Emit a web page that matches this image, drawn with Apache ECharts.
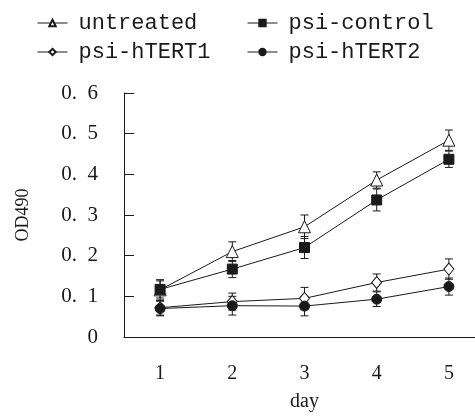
<!DOCTYPE html>
<html><head><meta charset="utf-8">
<script src="https://cdn.jsdelivr.net/npm/echarts@6/dist/echarts.min.js"></script>
<style>html,body{margin:0;padding:0;background:#fff}#c{width:475px;height:418px}</style>
</head><body><div id="c"></div>
<script>
const days = ['1','2','3','4','5'];
const yTicks = [0, 0.1, 0.2, 0.3, 0.4, 0.5, 0.6];
const untreated = [0.116, 0.210, 0.271, 0.386, 0.484];
const untreatedErr = [0.025, 0.024, 0.029, 0.020, 0.025];
const psiControl = [0.117, 0.167, 0.220, 0.337, 0.437];
const psiControlErr = [0.021, 0.021, 0.027, 0.027, 0.020];
const psiHTERT1 = [0.072, 0.087, 0.095, 0.134, 0.167];
const psiHTERT1Err = [0.018, 0.021, 0.027, 0.021, 0.025];
const psiHTERT2 = [0.070, 0.077, 0.076, 0.093, 0.124];
const psiHTERT2Err = [0.018, 0.023, 0.024, 0.018, 0.021];

const serif = '"Liberation Serif", "DejaVu Serif", serif';
const mono = '"Liberation Mono", "DejaVu Sans Mono", monospace';
const ink = '#1a1a1a';

function errSeries(vals, errs) {
  return {
    type: 'custom', z: 1, silent: true,
    data: vals.map((v, i) => [i, v - errs[i], v + errs[i]]),
    renderItem: function (params, api) {
      const x = api.value(0);
      const lo = api.coord([x, api.value(1)]);
      const hi = api.coord([x, api.value(2)]);
      const cw = 4;
      const st = {stroke: ink, lineWidth: 1};
      return {type: 'group', children: [
        {type: 'line', shape: {x1: lo[0], y1: lo[1], x2: hi[0], y2: hi[1]}, style: st},
        {type: 'line', shape: {x1: lo[0]-cw, y1: lo[1], x2: lo[0]+cw, y2: lo[1]}, style: st},
        {type: 'line', shape: {x1: hi[0]-cw, y1: hi[1], x2: hi[0]+cw, y2: hi[1]}, style: st}
      ]};
    }
  };
}
function lineSeries(name, vals, symbol, size, fill) {
  return {
    name: name, type: 'line', z: 3, data: vals, symbol: symbol, symbolSize: size,
    lineStyle: {color: ink, width: 1},
    itemStyle: {color: fill, borderColor: ink, borderWidth: 1},
    emphasis: {disabled: true}
  };
}
function legendAt(name, left, top) {
  return {
    data: [name], left: left, top: top, itemWidth: 30, itemHeight: 8, padding: 0,
    itemGap: 0, selectedMode: false,
    lineStyle: {width: 1, color: ink},
    textStyle: {fontFamily: mono, fontSize: 22, color: ink, padding: [0,0,0,6]}
  };
}

const chart = echarts.init(document.getElementById('c'));
chart.setOption({
  animation: false,
  backgroundColor: '#fff',
  legend: [
    legendAt('untreated', 37, 12),
    legendAt('psi-control', 247, 12),
    legendAt('psi-hTERT1', 37, 41),
    legendAt('psi-hTERT2', 247, 41)
  ],
  grid: {left: 124, top: 93, width: 361, height: 244, outerBoundsMode: 'none', containLabel: false},
  xAxis: {
    type: 'category', data: days, boundaryGap: true,
    name: 'day', nameLocation: 'middle', nameGap: 55,
    nameTextStyle: {fontFamily: serif, fontSize: 20, color: ink},
    axisLine: {lineStyle: {color: ink, width: 1}},
    axisTick: {inside: true, length: 10, lineStyle: {color: ink}},
    axisLabel: {fontFamily: serif, fontSize: 20, color: ink, margin: 27}
  },
  yAxis: {
    type: 'value', min: 0, max: 0.6, interval: 0.1,
    name: 'OD490', nameLocation: 'middle', nameGap: 92,
    nameTextStyle: {fontFamily: serif, fontSize: 18, color: ink},
    splitLine: {show: false},
    axisLine: {show: true, lineStyle: {color: ink, width: 1}},
    axisTick: {show: true, inside: true, length: 10, lineStyle: {color: ink}},
    axisLabel: {fontFamily: serif, fontSize: 21, color: ink, margin: 26,
      formatter: v => { const t = yTicks.find(k => Math.abs(k - v) < 1e-9); const s = String(t === undefined ? v : t); return s === '0' ? '0' : s.replace('.', '.  '); }}
  },
  series: [
    errSeries(untreated, untreatedErr),
    errSeries(psiControl, psiControlErr),
    errSeries(psiHTERT1, psiHTERT1Err),
    errSeries(psiHTERT2, psiHTERT2Err),
    lineSeries('untreated', untreated, 'triangle', 12, '#fff'),
    lineSeries('psi-control', psiControl, 'rect', 10, ink),
    lineSeries('psi-hTERT1', psiHTERT1, 'diamond', [10, 12], '#fff'),
    lineSeries('psi-hTERT2', psiHTERT2, 'circle', 10, ink)
  ]
});
</script></body></html>
